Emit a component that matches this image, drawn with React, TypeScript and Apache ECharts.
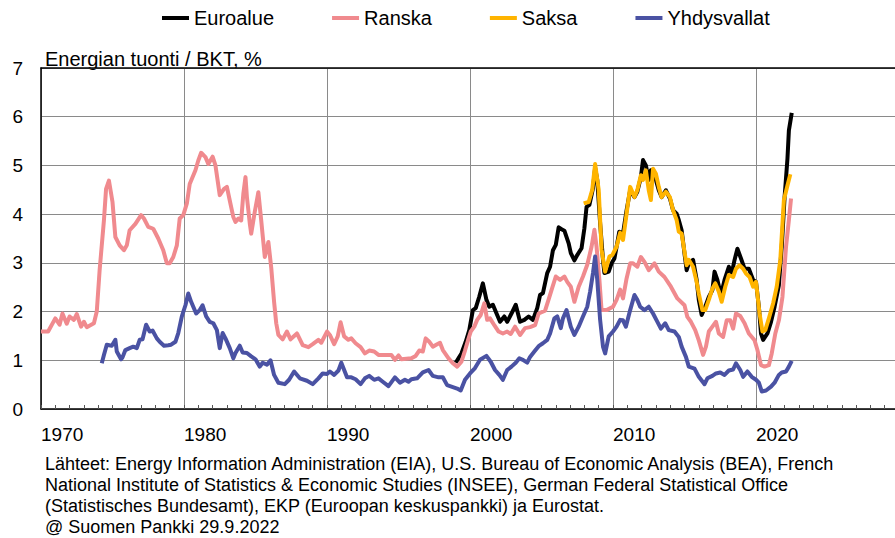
import React, { useEffect, useRef } from "react";
import * as echarts from "echarts";

const FONT = '"Liberation Sans", Arial, sans-serif';

const seriesNames = ["Euroalue", "Ranska", "Saksa", "Yhdysvallat"];
const seriesColors = ["#000000", "#F08A8E", "#FFB400", "#4A52A3"];

const yearTicks = [1970, 1980, 1990, 2000, 2010, 2020];
const yAxisTitle = "Energian tuonti / BKT, %";
const sourceLines = [
  "Lähteet: Energy Information Administration (EIA), U.S. Bureau of Economic Analysis (BEA), French",
  "National Institute of Statistics & Economic Studies (INSEE), German Federal Statistical Office",
  "(Statistisches Bundesamt), EKP (Euroopan keskuspankki) ja Eurostat.",
  "@ Suomen Pankki 29.9.2022",
];

const euroalue: [number, number][] = [
  [1999.0, 0.95], [1999.4, 1.14], [1999.7, 1.38], [1999.95, 1.62], [2000.2, 2.03], [2000.4, 2.07],
  [2000.65, 2.31], [2000.9, 2.58], [2001.15, 2.24], [2001.35, 2.1], [2001.6, 2.14], [2001.9, 1.93],
  [2002.1, 1.79], [2002.4, 1.9], [2002.6, 1.79], [2002.9, 1.96], [2003.2, 2.14], [2003.5, 1.79],
  [2003.8, 1.83], [2004.1, 1.9], [2004.4, 1.83], [2004.7, 2.07], [2004.9, 2.34], [2005.1, 2.38],
  [2005.4, 2.79], [2005.6, 2.92], [2005.8, 3.26], [2006.0, 3.37], [2006.2, 3.73], [2006.4, 3.69],
  [2006.6, 3.66], [2006.9, 3.4], [2007.05, 3.2], [2007.3, 3.05], [2007.5, 3.16], [2007.8, 3.3],
  [2008.0, 3.71], [2008.15, 4.15], [2008.35, 4.19], [2008.6, 4.53], [2008.75, 4.95], [2008.9, 4.7],
  [2009.1, 3.81], [2009.3, 3.06], [2009.4, 2.79], [2009.7, 2.82], [2009.9, 2.99], [2010.1, 3.09],
  [2010.25, 3.33], [2010.44, 3.64], [2010.7, 3.6], [2010.95, 4.08], [2011.2, 4.49], [2011.5, 4.35],
  [2011.7, 4.46], [2011.95, 4.76], [2012.1, 5.11], [2012.3, 5.0], [2012.5, 4.7], [2012.65, 4.9],
  [2012.8, 4.91], [2013.0, 4.7], [2013.2, 4.49], [2013.4, 4.35], [2013.7, 4.49], [2013.98, 4.32],
  [2014.2, 4.08], [2014.45, 4.01], [2014.6, 3.88], [2014.8, 3.67], [2015.0, 3.19], [2015.15, 2.85],
  [2015.3, 2.99], [2015.6, 3.06], [2015.85, 2.65], [2016.0, 2.24], [2016.2, 1.93], [2016.45, 2.1],
  [2016.7, 2.3], [2016.95, 2.44], [2017.1, 2.82], [2017.3, 2.65], [2017.55, 2.34], [2017.8, 2.65],
  [2018.1, 2.92], [2018.3, 2.78], [2018.5, 3.06], [2018.7, 3.29], [2018.95, 3.09], [2019.2, 2.88],
  [2019.5, 2.88], [2019.8, 2.65], [2020.0, 2.61], [2020.2, 2.1], [2020.35, 1.55], [2020.5, 1.42],
  [2020.8, 1.55], [2021.05, 1.79], [2021.3, 2.1], [2021.6, 2.54], [2021.8, 3.33], [2022.0, 4.35],
  [2022.2, 5.14], [2022.3, 5.72], [2022.5, 6.08],
];

const ranska: [number, number][] = [
  [1970.0, 1.59], [1970.5, 1.59], [1971.0, 1.86], [1971.3, 1.73], [1971.5, 1.96], [1971.8, 1.75],
  [1972.0, 1.9], [1972.3, 1.83], [1972.5, 1.95], [1972.8, 1.69], [1973.0, 1.79], [1973.2, 1.68],
  [1973.7, 1.76], [1973.9, 2.0], [1974.1, 2.85], [1974.4, 3.87], [1974.55, 4.52], [1974.75, 4.69],
  [1975.0, 4.25], [1975.2, 3.53], [1975.5, 3.36], [1975.8, 3.26], [1976.0, 3.36], [1976.2, 3.67],
  [1976.6, 3.8], [1977.0, 3.98], [1977.2, 3.91], [1977.5, 3.74], [1977.85, 3.7], [1978.2, 3.5],
  [1978.55, 3.26], [1978.8, 2.99], [1979.0, 2.99], [1979.25, 3.12], [1979.5, 3.36], [1979.7, 3.91],
  [1979.95, 3.98], [1980.2, 4.22], [1980.4, 4.62], [1980.8, 4.9], [1981.0, 5.1], [1981.2, 5.26],
  [1981.5, 5.17], [1981.7, 5.03], [1982.0, 5.18], [1982.2, 5.0], [1982.5, 4.39], [1982.8, 4.52],
  [1983.0, 4.56], [1983.2, 4.28], [1983.45, 3.94], [1983.6, 3.84], [1983.8, 3.91], [1984.0, 3.87],
  [1984.15, 4.42], [1984.3, 4.76], [1984.4, 4.35], [1984.6, 3.81], [1984.7, 3.6], [1984.95, 4.05],
  [1985.2, 4.45], [1985.4, 3.87], [1985.65, 3.12], [1985.9, 3.43], [1986.1, 2.9], [1986.3, 2.2],
  [1986.45, 1.76], [1986.6, 1.52], [1986.9, 1.43], [1987.2, 1.59], [1987.45, 1.43], [1987.9, 1.55],
  [1988.3, 1.31], [1988.7, 1.27], [1989.0, 1.33], [1989.4, 1.42], [1989.6, 1.36], [1990.0, 1.59],
  [1990.2, 1.52], [1990.5, 1.33], [1990.75, 1.49], [1990.95, 1.78], [1991.2, 1.49], [1991.5, 1.42],
  [1991.7, 1.45], [1992.0, 1.35], [1992.35, 1.27], [1992.65, 1.14], [1992.95, 1.2], [1993.3, 1.18],
  [1993.6, 1.11], [1993.9, 1.11], [1994.3, 1.11], [1994.5, 1.11], [1994.75, 1.01], [1995.0, 1.1],
  [1995.2, 1.02], [1995.55, 1.03], [1995.9, 1.04], [1996.2, 1.09], [1996.45, 1.2], [1996.7, 1.18],
  [1996.9, 1.45], [1997.15, 1.38], [1997.4, 1.28], [1997.7, 1.33], [1997.9, 1.36], [1998.1, 1.21],
  [1998.5, 1.04], [1998.8, 0.94], [1999.1, 0.87], [1999.4, 0.97], [1999.65, 1.2], [1999.9, 1.45],
  [2000.05, 1.59], [2000.3, 1.69], [2000.5, 1.83], [2000.75, 1.93], [2001.0, 2.17], [2001.2, 1.83],
  [2001.4, 1.86], [2001.7, 1.72], [2002.0, 1.59], [2002.3, 1.55], [2002.6, 1.59], [2002.85, 1.54],
  [2003.15, 1.69], [2003.5, 1.52], [2003.85, 1.66], [2004.2, 1.68], [2004.55, 1.72], [2004.8, 1.96],
  [2005.25, 2.02], [2005.5, 2.25], [2005.7, 2.44], [2006.0, 2.72], [2006.3, 2.65], [2006.6, 2.72],
  [2006.8, 2.61], [2007.05, 2.51], [2007.3, 2.2], [2007.6, 2.51], [2007.9, 2.72], [2008.2, 2.96],
  [2008.5, 3.33], [2008.7, 3.68], [2008.85, 3.33], [2009.05, 2.65], [2009.2, 2.03], [2009.55, 2.03],
  [2010.0, 2.1], [2010.25, 2.24], [2010.5, 2.45], [2010.7, 2.27], [2010.95, 2.68], [2011.2, 2.99],
  [2011.4, 2.99], [2011.7, 2.92], [2011.95, 3.12], [2012.2, 3.02], [2012.5, 2.85], [2012.9, 2.99],
  [2013.2, 2.82], [2013.6, 2.71], [2014.05, 2.51], [2014.5, 2.27], [2015.0, 2.13], [2015.2, 1.89],
  [2015.45, 1.79], [2015.75, 1.62], [2016.0, 1.41], [2016.3, 1.11], [2016.5, 1.28], [2016.7, 1.59],
  [2016.95, 1.69], [2017.2, 1.79], [2017.4, 1.55], [2017.7, 1.48], [2017.95, 1.82], [2018.2, 1.82],
  [2018.4, 1.65], [2018.6, 1.96], [2018.9, 1.91], [2019.2, 1.76], [2019.5, 1.55], [2019.9, 1.41],
  [2020.1, 1.21], [2020.35, 0.9], [2020.6, 0.87], [2020.9, 0.9], [2021.1, 1.14], [2021.35, 1.55],
  [2021.6, 1.82], [2021.85, 2.3], [2022.1, 3.33], [2022.3, 3.88], [2022.45, 4.32],
];

const saksa: [number, number][] = [
  [2007.95, 4.22], [2008.3, 4.25], [2008.55, 4.5], [2008.75, 5.03], [2009.0, 4.5], [2009.2, 3.27],
  [2009.45, 2.82], [2009.75, 3.13], [2009.95, 3.16], [2010.25, 3.33], [2010.5, 3.62], [2010.7, 3.47],
  [2010.95, 4.01], [2011.2, 4.56], [2011.5, 4.35], [2011.7, 4.49], [2011.95, 4.8], [2012.1, 4.7],
  [2012.3, 4.9], [2012.5, 4.49], [2012.65, 4.29], [2012.8, 4.93], [2013.0, 4.83], [2013.2, 4.56],
  [2013.4, 4.35], [2013.7, 4.46], [2013.98, 4.35], [2014.2, 4.08], [2014.45, 3.88], [2014.6, 3.64],
  [2014.8, 3.6], [2015.0, 3.23], [2015.15, 2.95], [2015.3, 3.06], [2015.6, 2.92], [2015.85, 2.61],
  [2016.0, 2.37], [2016.25, 2.03], [2016.45, 2.03], [2016.7, 2.24], [2016.95, 2.47], [2017.15, 2.58],
  [2017.4, 2.41], [2017.6, 2.2], [2017.85, 2.51], [2018.1, 2.75], [2018.4, 2.71], [2018.6, 2.88],
  [2018.85, 2.95], [2019.1, 2.88], [2019.3, 2.78], [2019.55, 2.71], [2019.8, 2.51], [2020.0, 2.61],
  [2020.25, 1.96], [2020.45, 1.59], [2020.65, 1.62], [2020.9, 1.86], [2021.2, 2.17], [2021.45, 2.51],
  [2021.7, 3.06], [2021.95, 4.29], [2022.2, 4.59], [2022.4, 4.82],
];

const yhdysvallat: [number, number][] = [
  [1974.25, 0.94], [1974.4, 1.11], [1974.6, 1.32], [1974.95, 1.3], [1975.2, 1.42], [1975.3, 1.18],
  [1975.6, 1.02], [1975.7, 1.06], [1975.9, 1.21], [1976.2, 1.25], [1976.45, 1.28], [1976.7, 1.25],
  [1976.9, 1.42], [1977.1, 1.43], [1977.35, 1.73], [1977.6, 1.59], [1977.8, 1.61], [1978.1, 1.45],
  [1978.3, 1.38], [1978.6, 1.3], [1978.9, 1.31], [1979.1, 1.32], [1979.4, 1.38], [1979.6, 1.56],
  [1979.85, 1.9], [1980.1, 2.13], [1980.3, 2.37], [1980.5, 2.2], [1980.85, 1.96], [1981.1, 2.03],
  [1981.3, 2.13], [1981.55, 1.9], [1981.8, 1.79], [1982.05, 1.76], [1982.3, 1.62], [1982.5, 1.25],
  [1982.7, 1.56], [1982.9, 1.45], [1983.2, 1.25], [1983.45, 1.04], [1983.6, 1.15], [1983.9, 1.3],
  [1984.1, 1.16], [1984.4, 1.15], [1984.7, 1.08], [1985.0, 1.02], [1985.3, 0.87], [1985.5, 0.95],
  [1985.8, 0.91], [1986.05, 1.0], [1986.3, 0.7], [1986.6, 0.54], [1987.05, 0.51], [1987.35, 0.6],
  [1987.7, 0.77], [1988.1, 0.63], [1988.6, 0.58], [1989.0, 0.51], [1989.4, 0.63], [1989.7, 0.73],
  [1990.0, 0.72], [1990.2, 0.77], [1990.5, 0.7], [1990.8, 0.79], [1991.0, 0.95], [1991.2, 0.8],
  [1991.4, 0.65], [1991.7, 0.65], [1992.0, 0.61], [1992.35, 0.51], [1992.65, 0.63], [1992.95, 0.68],
  [1993.3, 0.6], [1993.6, 0.63], [1993.9, 0.56], [1994.3, 0.47], [1994.75, 0.65], [1995.1, 0.54],
  [1995.45, 0.6], [1995.7, 0.56], [1995.9, 0.61], [1996.3, 0.63], [1996.7, 0.75], [1997.1, 0.8],
  [1997.4, 0.68], [1997.8, 0.65], [1998.1, 0.65], [1998.4, 0.49], [1998.8, 0.45], [1999.1, 0.42],
  [1999.35, 0.38], [1999.65, 0.6], [2000.0, 0.73], [2000.35, 0.84], [2000.7, 1.01], [2001.15, 1.09],
  [2001.45, 0.97], [2001.75, 0.8], [2002.05, 0.7], [2002.3, 0.6], [2002.6, 0.8], [2002.9, 0.87],
  [2003.2, 0.95], [2003.45, 1.04], [2003.7, 1.01], [2004.0, 0.95], [2004.2, 1.07], [2004.5, 1.18],
  [2004.8, 1.29], [2005.1, 1.35], [2005.4, 1.42], [2005.6, 1.55], [2005.9, 1.86], [2006.1, 1.9],
  [2006.35, 1.66], [2006.5, 1.86], [2006.75, 2.03], [2007.05, 1.69], [2007.3, 1.52], [2007.6, 1.69],
  [2007.9, 1.9], [2008.2, 2.1], [2008.4, 2.41], [2008.6, 2.79], [2008.75, 3.13], [2008.9, 2.65],
  [2009.1, 1.83], [2009.3, 1.28], [2009.45, 1.14], [2009.7, 1.49], [2010.0, 1.59], [2010.25, 1.69],
  [2010.5, 1.83], [2010.7, 1.82], [2010.9, 1.69], [2011.2, 2.03], [2011.5, 2.34], [2011.7, 2.24],
  [2011.9, 2.1], [2012.2, 2.03], [2012.5, 2.1], [2012.8, 1.96], [2013.05, 1.82], [2013.35, 1.65],
  [2013.65, 1.76], [2013.9, 1.62], [2014.3, 1.59], [2014.6, 1.48], [2014.8, 1.28], [2015.1, 1.07],
  [2015.3, 0.87], [2015.7, 0.83], [2016.0, 0.66], [2016.4, 0.51], [2016.6, 0.63], [2016.95, 0.68],
  [2017.2, 0.73], [2017.5, 0.75], [2017.8, 0.7], [2018.1, 0.79], [2018.4, 0.81], [2018.6, 0.94],
  [2018.9, 0.8], [2019.1, 0.66], [2019.4, 0.77], [2019.7, 0.66], [2020.0, 0.6], [2020.2, 0.54],
  [2020.4, 0.36], [2020.7, 0.38], [2021.05, 0.46], [2021.3, 0.54], [2021.6, 0.7], [2021.8, 0.75],
  [2022.1, 0.77], [2022.3, 0.87], [2022.5, 0.99],
];

const seriesData = [euroalue, ranska, saksa, yhdysvallat];

export default function App() {
  const ref = useRef<HTMLDivElement>(null);
  useEffect(() => {
    if (!ref.current) return;
    const chart = echarts.init(ref.current, undefined, { renderer: "svg" });
    chart.setOption({
      animation: false,
      backgroundColor: "#ffffff",
      textStyle: { fontFamily: FONT },
      legend: {
        left: 157,
        top: 3,
        icon: "rect",
        itemWidth: 27,
        itemHeight: 4,
        itemGap: 58,
        textStyle: { fontSize: 20, color: "#000", fontFamily: FONT },
        data: seriesNames,
      },
      grid: { left: 41, top: 68, width: 858, height: 341, containLabel: false, outerBoundsMode: "none" },
      xAxis: [
        {
          type: "value",
          min: 1970,
          max: 2030,
          interval: 10,
          axisLine: { show: true, lineStyle: { color: "#000", width: 1.5 } },
          axisTick: { show: true, inside: true, length: 4, lineStyle: { color: "#555" } },
          minorTick: { show: true, splitNumber: 10, length: 4, lineStyle: { color: "#555" } },
          splitLine: { show: true, lineStyle: { color: "#8a8a8a", width: 1 } },
          axisLabel: {
            show: true,
            fontSize: 19,
            color: "#000",
            fontFamily: FONT,
            align: "left",
            margin: 16,
            formatter: (v: number) => (yearTicks.includes(v) ? String(v) : ""),
          },
        },
        {
          type: "value",
          position: "top",
          min: 1970,
          max: 2030,
          interval: 10,
          axisLine: { show: true, lineStyle: { color: "#000", width: 1.5 } },
          axisTick: { show: false },
          axisLabel: { show: false },
          splitLine: { show: false },
        },
      ],
      yAxis: {
        type: "value",
        min: 0,
        max: 7,
        interval: 1,
        axisLine: { show: true, lineStyle: { color: "#000", width: 1.5 } },
        axisTick: { show: false },
        splitLine: { show: true, lineStyle: { color: "#8a8a8a", width: 1 } },
        axisLabel: { fontSize: 19, color: "#000", fontFamily: FONT, margin: 18 },
      },
      graphic: [
        {
          type: "text",
          x: 45,
          y: 59,
          style: { text: yAxisTitle, fontSize: 20, fontFamily: FONT, fill: "#000", verticalAlign: "middle" },
        },
        {
          type: "text",
          x: 45,
          y: 453,
          style: {
            text: sourceLines.join("\n"),
            fontSize: 18,
            lineHeight: 21,
            fontFamily: FONT,
            fill: "#000",
            verticalAlign: "top",
          },
        },
      ],
      series: seriesNames.map((name, i) => ({
        name,
        type: "line",
        xAxisIndex: 0,
        data: seriesData[i],
        showSymbol: false,
        symbol: "none",
        color: seriesColors[i],
        lineStyle: { width: 4, color: seriesColors[i], join: "round" },
        z: 2 + i,
      })),
    });
    return () => chart.dispose();
  }, []);
  return (
    <div
      ref={ref}
      style={{ position: "fixed", left: 0, top: 0, width: 895, height: 538, background: "#fff" }}
    />
  );
}
